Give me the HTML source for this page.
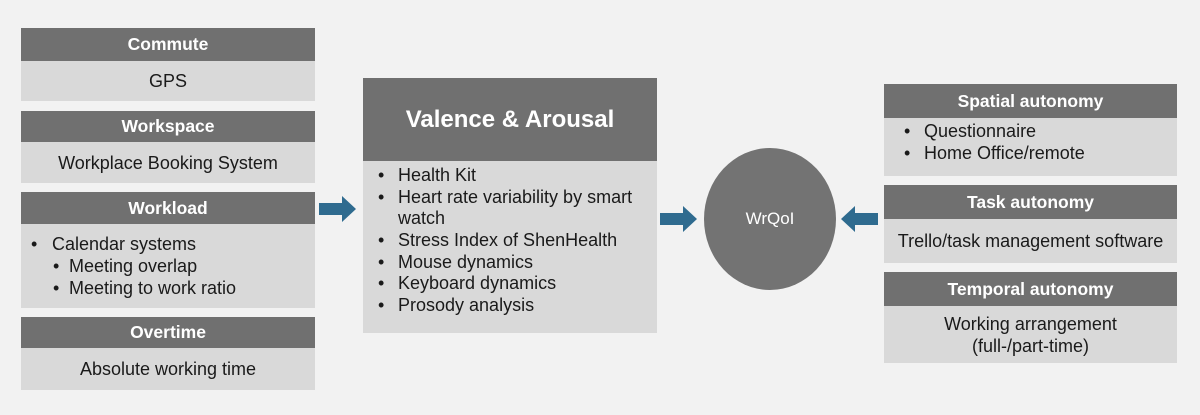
<!DOCTYPE html>
<html><head><meta charset="utf-8"><style>
body{margin:0;width:1200px;height:415px;background:#f2f2f2;position:relative;overflow:hidden;font-family:"Liberation Sans",Arial,sans-serif;color:#1a1a1a}
.h{position:absolute;background:#707070;color:#fff;font-weight:bold;font-size:17.5px;display:flex;align-items:center;justify-content:center}
.b{position:absolute;background:#d9d9d9;font-size:18px}
.c{display:flex;align-items:center;justify-content:center;text-align:center;line-height:22px}
.l{position:absolute;white-space:nowrap;line-height:21.7px}
.arrow{position:absolute}
</style></head><body>
<div class="h" style="left:21px;top:28px;width:294px;height:33px">Commute</div>
<div class="b c" style="left:21px;top:61px;width:294px;height:40px">GPS</div>
<div class="h" style="left:21px;top:111px;width:294px;height:31px">Workspace</div>
<div class="b c" style="left:21px;top:142px;width:294px;height:41px">Workplace Booking System</div>
<div class="h" style="left:21px;top:192px;width:294px;height:32px">Workload</div>
<div class="b" style="left:21px;top:224px;width:294px;height:84px">
<div class="l" style="left:10px;top:10px">•</div><div class="l" style="left:31px;top:10px">Calendar systems</div>
<div class="l" style="left:32px;top:32px">•</div><div class="l" style="left:48px;top:32px">Meeting overlap</div>
<div class="l" style="left:32px;top:54px">•</div><div class="l" style="left:48px;top:54px">Meeting to work ratio</div>
</div>
<div class="h" style="left:21px;top:317px;width:294px;height:31px">Overtime</div>
<div class="b c" style="left:21px;top:348px;width:294px;height:42px">Absolute working time</div>

<svg class="arrow" style="left:319px;top:196px" width="38" height="28"><polygon points="0,7 23,7 23,0 37,13 23,26 23,19 0,19" fill="#2f6b8f"/></svg>

<div class="h" style="left:363px;top:78px;width:294px;height:83px;font-size:24px">Valence &amp; Arousal</div>
<div class="b" style="left:363px;top:161px;width:294px;height:172px">
<div class="l" style="left:15px;top:4px">•</div><div class="l" style="left:35px;top:4px">Health Kit</div>
<div class="l" style="left:15px;top:26px">•</div><div class="l" style="left:35px;top:26px">Heart rate variability by smart</div>
<div class="l" style="left:35px;top:47px">watch</div>
<div class="l" style="left:15px;top:69px">•</div><div class="l" style="left:35px;top:69px">Stress Index of ShenHealth</div>
<div class="l" style="left:15px;top:91px">•</div><div class="l" style="left:35px;top:91px">Mouse dynamics</div>
<div class="l" style="left:15px;top:112px">•</div><div class="l" style="left:35px;top:112px">Keyboard dynamics</div>
<div class="l" style="left:15px;top:134px">•</div><div class="l" style="left:35px;top:134px">Prosody analysis</div>
</div>

<svg class="arrow" style="left:660px;top:206px" width="38" height="28"><polygon points="0,7 23,7 23,0 37,13 23,26 23,19 0,19" fill="#2f6b8f"/></svg>
<div style="position:absolute;left:704px;top:148px;width:132px;height:142px;border-radius:50%;background:#737373;color:#fff;font-size:17px;display:flex;align-items:center;justify-content:center">WrQoI</div>
<svg class="arrow" style="left:841px;top:206px" width="38" height="28"><polygon points="37,7 14,7 14,0 0,13 14,26 14,19 37,19" fill="#2f6b8f"/></svg>

<div class="h" style="left:884px;top:84px;width:293px;height:34px">Spatial autonomy</div>
<div class="b" style="left:884px;top:118px;width:293px;height:58px">
<div class="l" style="left:20px;top:3px">•</div><div class="l" style="left:40px;top:3px">Questionnaire</div>
<div class="l" style="left:20px;top:25px">•</div><div class="l" style="left:40px;top:25px">Home Office/remote</div>
</div>
<div class="h" style="left:884px;top:185px;width:293px;height:34px">Task autonomy</div>
<div class="b c" style="left:884px;top:219px;width:293px;height:44px">Trello/task management software</div>
<div class="h" style="left:884px;top:272px;width:293px;height:34px">Temporal autonomy</div>
<div class="b c" style="left:884px;top:306px;width:293px;height:57px">Working arrangement<br>(full-/part-time)</div>
</body></html>
